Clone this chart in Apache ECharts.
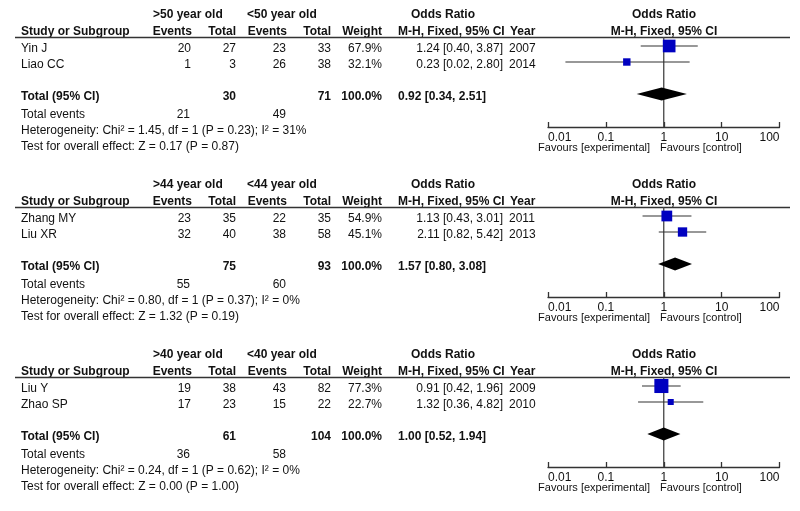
<!DOCTYPE html>
<html>
<head>
<meta charset="utf-8">
<script src="https://cdn.jsdelivr.net/npm/echarts@6/dist/echarts.min.js"></script>
<style>
html,body{margin:0;padding:0;background:#fff;}
#chart{width:800px;height:511px;}
</style>
</head>
<body>
<div id="chart"></div>
<script>
// ---------- data ----------
const expGroups = ['>50 year old', '>44 year old', '>40 year old'];
const ctrlGroups = ['<50 year old', '<44 year old', '<40 year old'];
const studies = [['Yin J', 'Liao CC'], ['Zhang MY', 'Liu XR'], ['Liu Y', 'Zhao SP']];
const expEvents = [[20, 1], [23, 32], [19, 17]];
const expTotal = [[27, 3], [35, 40], [38, 23]];
const ctrlEvents = [[23, 26], [22, 38], [43, 15]];
const ctrlTotal = [[33, 38], [35, 58], [82, 22]];
const weights = [[67.9, 32.1], [54.9, 45.1], [77.3, 22.7]];
const oddsRatio = [[1.24, 0.23], [1.13, 2.11], [0.91, 1.32]];
const ciLow = [[0.40, 0.02], [0.43, 0.82], [0.42, 0.36]];
const ciHigh = [[3.87, 2.80], [3.01, 5.42], [1.96, 4.82]];
const years = [[2007, 2014], [2011, 2013], [2009, 2010]];
const totalOR = [0.92, 1.57, 1.00];
const totalLow = [0.34, 0.80, 0.52];
const totalHigh = [2.51, 3.08, 1.94];
const totalExp = [30, 75, 61];
const totalCtrl = [71, 93, 104];
const totalEventsExp = [21, 55, 36];
const totalEventsCtrl = [49, 60, 58];
const hetChi = ['1.45', '0.80', '0.24'];
const hetP = ['0.23', '0.37', '0.62'];
const hetI2 = [31, 0, 0];
const effectZ = ['0.17', '1.32', '0.00'];
const effectP = ['0.87', '0.19', '1.00'];
const tickLabels = [0.01, 0.1, 1, 10, 100];
const noEffect = 1;

// ---------- layout ----------
const FONT = '"Liberation Sans", Arial, sans-serif';
const PANEL_STEP = 170;
const Y_MIN = -0.5625, Y_MAX = 5.0625;
const graphics = [];
function txt(x, y, s, align, bold, size) {
  graphics.push({
    type: 'text', x: x, y: y, silent: true,
    style: {
      text: s, fill: '#111', font: (bold ? 'bold ' : '') + (size || 12) + 'px ' + FONT,
      textAlign: align || 'left', textVerticalAlign: 'middle'
    }
  });
}
const f2 = v => v.toFixed(2);
const ciStr = (o, l, h) => f2(o) + ' [' + f2(l) + ', ' + f2(h) + ']';

const grids = [], xAxes = [], yAxes = [], series = [];
for (let p = 0; p < 3; p++) {
  const P = p * PANEL_STEP;
  // headers
  txt(153, 15 + P, expGroups[p], 'left', true);
  txt(247, 15 + P, ctrlGroups[p], 'left', true);
  txt(443, 15 + P, 'Odds Ratio', 'center', true);
  txt(664, 15 + P, 'Odds Ratio', 'center', true);
  txt(21, 32 + P, 'Study or Subgroup', 'left', true);
  txt(192, 32 + P, 'Events', 'right', true);
  txt(236, 32 + P, 'Total', 'right', true);
  txt(287, 32 + P, 'Events', 'right', true);
  txt(331, 32 + P, 'Total', 'right', true);
  txt(382, 32 + P, 'Weight', 'right', true);
  txt(398, 32 + P, 'M-H, Fixed, 95% CI', 'left', true);
  txt(510, 32 + P, 'Year', 'left', true);
  txt(664, 32 + P, 'M-H, Fixed, 95% CI', 'center', true);
  graphics.push({
    type: 'line', silent: true,
    shape: { x1: 15, y1: 37.5 + P, x2: 790, y2: 37.5 + P },
    style: { stroke: '#333', lineWidth: 1.3 }
  });
  // study rows
  for (let i = 0; i < studies[p].length; i++) {
    const y = 49 + 16 * i + P;
    txt(21, y, studies[p][i], 'left');
    txt(191, y, String(expEvents[p][i]), 'right');
    txt(236, y, String(expTotal[p][i]), 'right');
    txt(286, y, String(ctrlEvents[p][i]), 'right');
    txt(331, y, String(ctrlTotal[p][i]), 'right');
    txt(382, y, weights[p][i].toFixed(1) + '%', 'right');
    txt(503, y, ciStr(oddsRatio[p][i], ciLow[p][i], ciHigh[p][i]), 'right');
    txt(509, y, String(years[p][i]), 'left');
  }
  // totals
  txt(21, 97 + P, 'Total (95% CI)', 'left', true);
  txt(236, 97 + P, String(totalExp[p]), 'right', true);
  txt(331, 97 + P, String(totalCtrl[p]), 'right', true);
  txt(382, 97 + P, '100.0%', 'right', true);
  txt(398, 97 + P, ciStr(totalOR[p], totalLow[p], totalHigh[p]), 'left', true);
  txt(21, 115 + P, 'Total events', 'left');
  txt(190, 115 + P, String(totalEventsExp[p]), 'right');
  txt(286, 115 + P, String(totalEventsCtrl[p]), 'right');
  txt(21, 131 + P, 'Heterogeneity: Chi\u00b2 = ' + hetChi[p] + ', df = 1 (P = ' + hetP[p] + '); I\u00b2 = ' + hetI2[p] + '%', 'left');
  txt(21, 147 + P, 'Test for overall effect: Z = ' + effectZ[p] + ' (P = ' + effectP[p] + ')', 'left');
  txt(650, 148 + P, 'Favours [experimental]', 'right', false, 11);
  txt(660, 148 + P, 'Favours [control]', 'left', false, 11);

  // forest plot grid
  grids.push({ left: 548, width: 231.5, top: 37 + P, height: 90 });
  xAxes.push({
    type: 'log', logBase: 10, min: 0.01, max: 100, gridIndex: p, position: 'bottom',
    axisLine: { show: true, onZero: false, lineStyle: { color: '#333', width: 1.3 } },
    axisTick: { show: true, inside: true, length: 5, lineStyle: { color: '#333', width: 1.3 } },
    axisLabel: {
      color: '#111', fontSize: 12, fontFamily: FONT, margin: 5,
      alignMinLabel: 'left', alignMaxLabel: 'right',
      formatter: v => {
        const t = tickLabels.find(t => Math.abs(Math.log10(t) - Math.log10(v)) < 1e-6);
        return t === undefined ? '' : String(t);
      }
    },
    splitLine: { show: false }, minorTick: { show: false }
  });
  yAxes.push({ type: 'value', gridIndex: p, min: Y_MIN, max: Y_MAX, inverse: true, show: false });

  // vertical line of no effect (drawn beneath the marks)
  series.push({
    type: 'custom', xAxisIndex: p, yAxisIndex: p, silent: true, clip: false,
    data: [[noEffect]],
    renderItem: function (params, api) {
      const a = api.coord([api.value(0), Y_MIN]);
      const b = api.coord([api.value(0), Y_MAX]);
      return { type: 'line', shape: { x1: a[0], y1: a[1], x2: b[0], y2: b[1] }, style: { stroke: '#444', lineWidth: 1.3 } };
    },
    z: 1
  });

  const studyData = studies[p].map((s, i) => [oddsRatio[p][i], ciLow[p][i], ciHigh[p][i], i, weights[p][i]]);
  series.push({
    type: 'custom', xAxisIndex: p, yAxisIndex: p, clip: false, silent: true,
    data: studyData,
    renderItem: function (params, api) {
      const row = api.value(3);
      const a = api.coord([api.value(1), row]);
      const b = api.coord([api.value(2), row]);
      const c = api.coord([api.value(0), row]);
      const sz = 2.7 + 0.147 * api.value(4);
      return {
        type: 'group', children: [
          { type: 'line', shape: { x1: a[0], y1: a[1], x2: b[0], y2: b[1] }, style: { stroke: '#333', lineWidth: 1.2 } },
          { type: 'rect', shape: { x: c[0] - sz / 2, y: c[1] - sz / 2, width: sz, height: sz }, style: { fill: '#0000c0' } }
        ]
      };
    },
    z: 3
  });
  series.push({
    type: 'custom', xAxisIndex: p, yAxisIndex: p, clip: false, silent: true,
    data: [[totalOR[p], totalLow[p], totalHigh[p], 3]],
    renderItem: function (params, api) {
      const row = api.value(3);
      const l = api.coord([api.value(1), row]);
      const h = api.coord([api.value(2), row]);
      const m = api.coord([api.value(0), row]);
      const hh = 6.5;
      return {
        type: 'polygon',
        shape: { points: [[l[0], l[1]], [m[0], m[1] - hh], [h[0], h[1]], [m[0], m[1] + hh]] },
        style: { fill: '#000' }
      };
    },
    z: 4
  });
}

const chart = echarts.init(document.getElementById('chart'), null, { renderer: 'canvas' });
chart.setOption({
  animation: false,
  backgroundColor: '#fff',
  grid: grids, xAxis: xAxes, yAxis: yAxes, series: series,
  graphic: graphics
});
</script>
</body>
</html>
